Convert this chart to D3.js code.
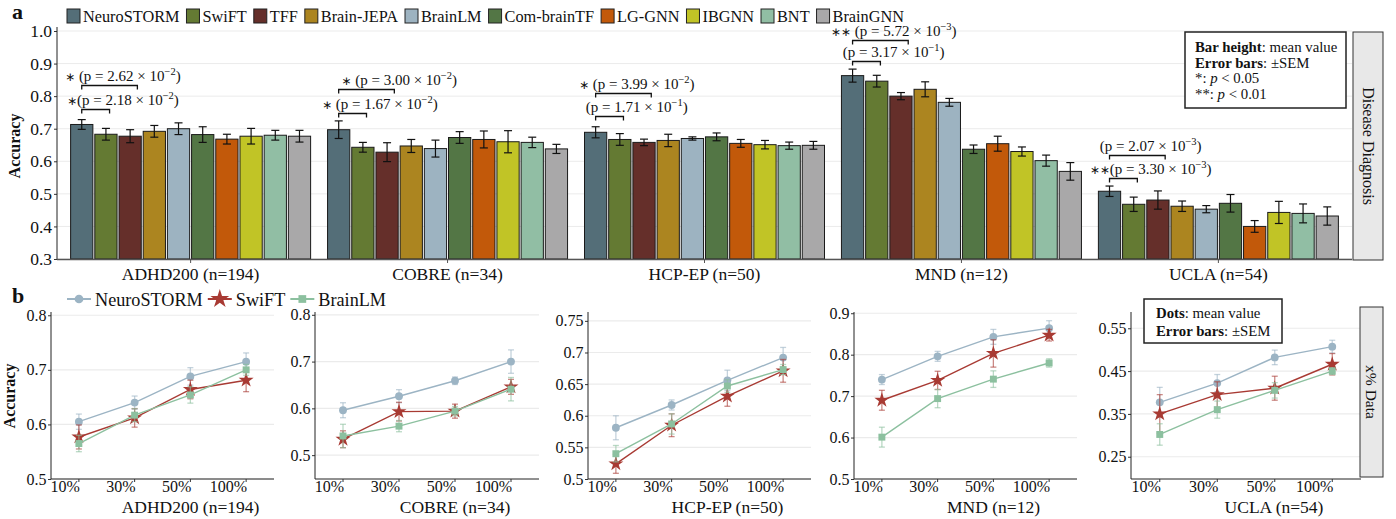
<!DOCTYPE html>
<html>
<head>
<meta charset="utf-8">
<script src="https://cdn.jsdelivr.net/npm/d3@7"></script>
<style>
  body { margin: 0; background: #fff; }
  svg { display: block; font-family: "Liberation Serif", "Times New Roman", serif; }
</style>
</head>
<body>
<svg id="chart" width="1396" height="519"></svg>
<script>
// ---------- panel a : disease diagnosis ----------
const datasets = ["ADHD200 (n=194)", "COBRE (n=34)", "HCP-EP (n=50)", "MND (n=12)", "UCLA (n=54)"];
const models = ["NeuroSTORM", "SwiFT", "TFF", "Brain-JEPA", "BrainLM", "Com-brainTF", "LG-GNN", "IBGNN", "BNT", "BrainGNN"];
const modelColors = ["#546e78", "#647a33", "#652f2a", "#ac8520", "#9db3c1", "#537645", "#c2590a", "#c1c426", "#91bea4", "#a9a8a9"];
// meanAcc[dataset][model], semAcc the same
const meanAcc = [
  [0.713, 0.683, 0.677, 0.692, 0.700, 0.682, 0.668, 0.677, 0.680, 0.677],
  [0.697, 0.643, 0.628, 0.647, 0.639, 0.673, 0.667, 0.660, 0.658, 0.638],
  [0.689, 0.667, 0.658, 0.664, 0.670, 0.675, 0.655, 0.651, 0.648, 0.649],
  [0.863, 0.846, 0.800, 0.821, 0.781, 0.637, 0.654, 0.630, 0.602, 0.569],
  [0.508, 0.468, 0.481, 0.462, 0.453, 0.471, 0.400, 0.443, 0.440, 0.432]
];
const semAcc = [
  [0.015, 0.018, 0.020, 0.018, 0.018, 0.024, 0.015, 0.024, 0.015, 0.018],
  [0.027, 0.015, 0.029, 0.020, 0.026, 0.018, 0.026, 0.034, 0.016, 0.014],
  [0.017, 0.018, 0.010, 0.019, 0.005, 0.012, 0.012, 0.013, 0.011, 0.012],
  [0.020, 0.018, 0.011, 0.023, 0.012, 0.013, 0.023, 0.014, 0.017, 0.027],
  [0.016, 0.022, 0.028, 0.016, 0.011, 0.027, 0.018, 0.034, 0.029, 0.028]
];
const yTicksA = [0.3, 0.4, 0.5, 0.6, 0.7, 0.8, 0.9, 1.0];

// significance brackets (NeuroSTORM vs SwiFT / TFF)
const sigGroup = [0, 0, 1, 1, 2, 2, 3, 3, 4, 4];
const sigTo    = [1, 2, 1, 2, 1, 2, 1, 2, 1, 2];
const sigLevel = [0.760, 0.834, 0.748, 0.821, 0.739, 0.809, 0.907, 0.972, 0.548, 0.619];
const sigStars = ["∗", "∗ ", "∗ ", "∗ ", "", "∗ ", "", "∗∗ ", "∗∗", ""];
const sigP     = ["2.18", "2.62", "1.67", "3.00", "1.71", "3.99", "3.17", "5.72", "3.30", "2.07"];
const sigExp   = ["−2", "−2", "−2", "−2", "−1", "−2", "−1", "−3", "−3", "−3"];
const sigShift = [1.7, 1.7, 1.7, 2.5, 1.7, 1.7, 1.7, 1.7, 1.7, 1.7];

// ---------- panel b : x% data ----------
const fractions = ["10%", "30%", "50%", "100%"];
const fewModels = ["NeuroSTORM", "SwiFT", "BrainLM"];
const fewColors = ["#9cb4c4", "#a83a33", "#8cc09f"];
const fewSymbols = [d3.symbolCircle, d3.symbolStar, d3.symbolSquare];
// fewMean[dataset][model][fraction]
const fewMean = [
  [[0.605, 0.640, 0.688, 0.715], [0.577, 0.612, 0.664, 0.681], [0.565, 0.617, 0.654, 0.700]],
  [[0.596, 0.626, 0.659, 0.700], [0.534, 0.593, 0.594, 0.646], [0.541, 0.562, 0.594, 0.641]],
  [[0.581, 0.617, 0.656, 0.692], [0.524, 0.585, 0.631, 0.671], [0.540, 0.587, 0.647, 0.673]],
  [[0.740, 0.796, 0.843, 0.864], [0.690, 0.738, 0.803, 0.847], [0.601, 0.694, 0.741, 0.780]],
  [[0.377, 0.422, 0.482, 0.507], [0.350, 0.395, 0.410, 0.466], [0.302, 0.360, 0.405, 0.450]]
];
const fewSem = [
  [[0.014, 0.012, 0.016, 0.016], [0.022, 0.017, 0.017, 0.021], [0.015, 0.012, 0.015, 0.010]],
  [[0.016, 0.014, 0.008, 0.025], [0.018, 0.020, 0.015, 0.016], [0.025, 0.012, 0.010, 0.025]],
  [[0.019, 0.008, 0.016, 0.016], [0.015, 0.018, 0.016, 0.018], [0.013, 0.016, 0.010, 0.008]],
  [[0.012, 0.012, 0.018, 0.018], [0.024, 0.022, 0.033, 0.014], [0.024, 0.022, 0.020, 0.010]],
  [[0.035, 0.020, 0.017, 0.015], [0.045, 0.030, 0.028, 0.025], [0.025, 0.020, 0.018, 0.008]]
];
const fewTicks = [
  [0.5, 0.6, 0.7, 0.8],
  [0.5, 0.6, 0.7, 0.8],
  [0.5, 0.55, 0.6, 0.65, 0.7, 0.75],
  [0.5, 0.6, 0.7, 0.8, 0.9],
  [0.25, 0.35, 0.45, 0.55]
];

const svg = d3.select("#chart");
const ink = "#111";

// ===================== panel a =====================
const aLeft = 57, aRight = 1352, aTop = 27, aBottom = 259;
const yA = d3.scaleLinear().domain([0.3, 1.0]).range([259, 31]);
const xA = d3.scalePoint().domain(datasets).range([aLeft, aRight]).padding(0.52);
const xM = d3.scaleBand().domain(models).range([-120, 120]).paddingInner(0.08);

const gA = svg.append("g");

gA.selectAll(".gridA").data(yTicksA).join("line")
  .attr("x1", aLeft).attr("x2", aRight)
  .attr("y1", d => yA(d)).attr("y2", d => yA(d))
  .attr("stroke", "#ebebeb").attr("stroke-width", 1);

// y axis
const axA = gA.append("g").attr("transform", `translate(${aLeft},0)`)
  .call(d3.axisLeft(yA).tickValues(yTicksA).tickFormat(d3.format(".1f")).tickSize(3).tickSizeOuter(0));
axA.select(".domain").remove();
axA.selectAll(".tick line").attr("stroke", "#333");
axA.selectAll(".tick text").attr("font-size", 17.5).attr("fill", ink)
  .attr("font-family", "Liberation Serif, serif").attr("x", -5);
gA.append("line").attr("x1", aLeft).attr("x2", aLeft).attr("y1", aTop).attr("y2", aBottom)
  .attr("stroke", "#222").attr("stroke-width", 1);

gA.append("text").attr("transform", `translate(20,146) rotate(-90)`)
  .attr("text-anchor", "middle").attr("font-size", 16).attr("font-weight", "bold").attr("fill", ink)
  .text("Accuracy");

// bars
datasets.forEach((ds, i) => {
  const g = gA.append("g").attr("transform", `translate(${xA(ds)},0)`);
  g.selectAll("rect").data(models).join("rect")
    .attr("x", m => xM(m)).attr("width", xM.bandwidth())
    .attr("y", (m, j) => yA(meanAcc[i][j]))
    .attr("height", (m, j) => yA(0.3) - yA(meanAcc[i][j]))
    .attr("fill", (m, j) => modelColors[j])
    .attr("stroke", "#1a1a1a").attr("stroke-width", 1);
  const eb = g.selectAll(".eb").data(models).join("g").attr("class", "eb")
    .attr("transform", m => `translate(${xM(m) + xM.bandwidth() / 2},0)`);
  eb.append("line").attr("y1", (m, j) => yA(meanAcc[i][j] - semAcc[i][j]))
    .attr("y2", (m, j) => yA(meanAcc[i][j] + semAcc[i][j]));
  eb.append("line").attr("x1", -4).attr("x2", 4)
    .attr("y1", (m, j) => yA(meanAcc[i][j] + semAcc[i][j])).attr("y2", (m, j) => yA(meanAcc[i][j] + semAcc[i][j]));
  eb.append("line").attr("x1", -4).attr("x2", 4)
    .attr("y1", (m, j) => yA(meanAcc[i][j] - semAcc[i][j])).attr("y2", (m, j) => yA(meanAcc[i][j] - semAcc[i][j]));
  eb.selectAll("line").attr("stroke", "#111").attr("stroke-width", 1.2);
});

// bottom axis of a
gA.append("line").attr("x1", aLeft).attr("x2", aRight).attr("y1", aBottom + 0.5).attr("y2", aBottom + 0.5)
  .attr("stroke", "#555").attr("stroke-width", 1.6);
gA.selectAll(".xtA").data(datasets).join("line")
  .attr("x1", d => xA(d)).attr("x2", d => xA(d)).attr("y1", aBottom).attr("y2", aBottom + 4)
  .attr("stroke", "#555");
gA.selectAll(".xlA").data(datasets).join("text")
  .attr("x", d => xA(d)).attr("y", 280).attr("text-anchor", "middle")
  .attr("font-size", 17.5).attr("fill", ink).text(d => d);

// significance brackets
sigGroup.forEach((gi, k) => {
  const base = xA(datasets[gi]);
  const c0 = base + xM(models[0]) + xM.bandwidth() / 2;
  const c1 = base + xM(models[sigTo[k]]) + xM.bandwidth() / 2 + 0.15 * xM.step() * sigTo[k];
  const yy = Math.round(yA(sigLevel[k])) + 0.5;
  gA.append("path").attr("d", `M${c0},${yy + 4}V${yy}H${c1}V${yy + 4}`)
    .attr("fill", "none").attr("stroke", "#111").attr("stroke-width", 1.3);
  const t = gA.append("text").attr("x", c0 + sigShift[k] * xM.step()).attr("y", yy - 5)
    .attr("text-anchor", "middle").attr("font-size", 15).attr("fill", ink);
  if (sigStars[k]) {
    t.append("tspan").attr("font-family", "DejaVu Sans, sans-serif").attr("font-size", 12)
      .text(sigStars[k]);
  }
  t.append("tspan").text("(p = " + sigP[k] + " × 10");
  t.append("tspan").attr("dy", -5.5).attr("font-size", 10.5).text(sigExp[k]);
  t.append("tspan").attr("dy", 5.5).text(")");
});

// legend a
const legA = svg.append("g");
const legItems = [];
models.forEach((m, j) => {
  const it = legA.append("g");
  it.append("rect").attr("x", 0).attr("y", 9).attr("width", 13).attr("height", 14)
    .attr("fill", modelColors[j]).attr("stroke", "#222").attr("stroke-width", 1);
  const tx = it.append("text").attr("x", 16).attr("y", 22).attr("font-size", 16.3).attr("fill", ink).text(m);
  legItems.push({ g: it, w: 16 + tx.node().getComputedTextLength() });
});
const legGap = (904 - 67 - d3.sum(legItems, d => d.w)) / (legItems.length - 1);
let lx = 67;
legItems.forEach(d => { d.g.attr("transform", `translate(${lx},0)`); lx += d.w + legGap; });

svg.append("text").attr("x", 12).attr("y", 19).attr("font-size", 22).attr("font-weight", "bold")
  .attr("fill", ink).text("a");

// info box a
const boxA = svg.append("g").attr("transform", "translate(1185,32)");
boxA.append("rect").attr("width", 161).attr("height", 76).attr("fill", "#fff")
  .attr("stroke", "#222").attr("stroke-width", 1.5);
const infoA = [
  [["Bar height", "bold"], [": mean value", ""]],
  [["Error bars", "bold"], [": ±SEM", ""]],
  [["*: ", ""], ["p", "italic"], [" < 0.05", ""]],
  [["**: ", ""], ["p", "italic"], [" < 0.01", ""]]
];
infoA.forEach((parts, r) => {
  const t = boxA.append("text").attr("x", 10).attr("y", 20 + r * 15.5).attr("font-size", 14.8).attr("fill", ink);
  parts.forEach(p => {
    const s = t.append("tspan").text(p[0]);
    if (p[1] === "bold") s.attr("font-weight", "bold");
    if (p[1] === "italic") s.attr("font-style", "italic");
  });
});

// strip a
svg.append("rect").attr("x", 1353).attr("y", 32).attr("width", 30).attr("height", 228)
  .attr("fill", "#e8e8e8").attr("stroke", "#333").attr("stroke-width", 1);
svg.append("text").attr("transform", "translate(1363,146) rotate(90)").attr("text-anchor", "middle")
  .attr("font-size", 16).attr("fill", ink).text("Disease Diagnosis");

// ===================== panel b =====================
const panelLeft = [51, 315, 588, 854, 1131];
const panelWidth = [223, 224, 223, 223, 230];
const bTop = 312, bBottom = 479;
const yDomains = [[0.5, 0.806], [0.449, 0.806], [0.5, 0.764], [0.5, 0.903], [0.198, 0.588]];
const tickFmt = d3.format(".2~f");

datasets.forEach((ds, i) => {
  const g = svg.append("g").attr("transform", `translate(${panelLeft[i]},0)`);
  const w = panelWidth[i];
  const x = d3.scaleBand().domain(fractions).range([0, w]);
  const cx = f => x(f) + x.bandwidth() / 2;
  const y = d3.scaleLinear().domain(yDomains[i]).range([bBottom, bTop]);

  g.selectAll(".grid").data(fewTicks[i]).join("line")
    .attr("x1", 0).attr("x2", w).attr("y1", d => y(d)).attr("y2", d => y(d))
    .attr("stroke", "#ebebeb").attr("stroke-width", 1.2);

  const ay = g.append("g").call(d3.axisLeft(y).tickValues(fewTicks[i]).tickFormat(tickFmt).tickSize(3).tickSizeOuter(0));
  ay.select(".domain").remove();
  ay.selectAll(".tick line").attr("stroke", "#333");
  ay.selectAll(".tick text").attr("font-size", 16).attr("fill", ink)
    .attr("font-family", "Liberation Serif, serif").attr("x", -4.5);
  g.append("line").attr("x1", 0).attr("x2", 0).attr("y1", bTop).attr("y2", bBottom).attr("stroke", "#222");
  g.append("line").attr("x1", 0).attr("x2", w).attr("y1", bBottom).attr("y2", bBottom).attr("stroke", "#222");

  g.selectAll(".xt").data(fractions).join("line")
    .attr("x1", cx).attr("x2", cx).attr("y1", bBottom).attr("y2", bBottom + 3).attr("stroke", "#333");
  g.selectAll(".xl").data(fractions).join("text")
    .attr("x", d => cx(d) + 1).attr("y", 492).attr("text-anchor", "end")
    .attr("font-size", 16).attr("fill", ink).text(d => d);
  g.append("text").attr("x", w / 2 + 28).attr("y", 513).attr("text-anchor", "middle")
    .attr("font-size", 17.5).attr("fill", ink).text(ds);

  fewModels.forEach((m, k) => {
    const col = fewColors[k];
    const mg = g.append("g");
    const line = d3.line().x((v, f) => cx(fractions[f])).y(v => y(v));
    mg.append("path").attr("d", line(fewMean[i][k])).attr("fill", "none")
      .attr("stroke", col).attr("stroke-width", 1.4);
    fractions.forEach((f, fi) => {
      const lo = y(fewMean[i][k][fi] - fewSem[i][k][fi]);
      const hi = y(fewMean[i][k][fi] + fewSem[i][k][fi]);
      const e = mg.append("g").attr("stroke", col).attr("stroke-opacity", 0.6).attr("stroke-width", 1.3);
      e.append("line").attr("x1", cx(f)).attr("x2", cx(f)).attr("y1", lo).attr("y2", hi);
      e.append("line").attr("x1", cx(f) - 3).attr("x2", cx(f) + 3).attr("y1", lo).attr("y2", lo);
      e.append("line").attr("x1", cx(f) - 3).attr("x2", cx(f) + 3).attr("y1", hi).attr("y2", hi);
    });
    mg.selectAll(".pt").data(fewMean[i][k]).join("path")
      .attr("transform", (v, fi) => `translate(${cx(fractions[fi])},${y(v)})`)
      .attr("d", d3.symbol().type(fewSymbols[k]).size(k === 1 ? 70 : 48))
      .attr("fill", col);
  });

  if (i === 0) {
    g.append("text").attr("transform", `translate(${-36},396) rotate(-90)`)
      .attr("text-anchor", "middle").attr("font-size", 16).attr("font-weight", "bold").attr("fill", ink)
      .text("Accuracy");
  }
});

// legend b
svg.append("text").attr("x", 12).attr("y", 303).attr("font-size", 22).attr("font-weight", "bold")
  .attr("fill", ink).text("b");
let bx = 67;
fewModels.forEach((m, k) => {
  const it = svg.append("g").attr("transform", `translate(${bx},299)`);
  it.append("line").attr("x1", 0).attr("x2", 24).attr("stroke", fewColors[k]).attr("stroke-width", 2);
  it.append("path").attr("transform", "translate(12,0)")
    .attr("d", d3.symbol().type(fewSymbols[k]).size(k === 1 ? 110 : 60)).attr("fill", fewColors[k]);
  const t = it.append("text").attr("x", 28).attr("y", 6.5).attr("font-size", 18.2).attr("fill", ink).text(m);
  bx += 28 + t.node().getComputedTextLength() + 5;
});

// info box b
const boxB = svg.append("g").attr("transform", "translate(1144,299)");
boxB.append("rect").attr("width", 138).attr("height", 44).attr("fill", "#fff")
  .attr("stroke", "#222").attr("stroke-width", 1.5);
[[["Dots", "bold"], [": mean value", ""]], [["Error bars", "bold"], [": ±SEM", ""]]].forEach((parts, r) => {
  const t = boxB.append("text").attr("x", 12).attr("y", 19 + r * 17.5).attr("font-size", 14.8).attr("fill", ink);
  parts.forEach(p => {
    const s = t.append("tspan").text(p[0]);
    if (p[1] === "bold") s.attr("font-weight", "bold");
  });
});

// strip b
svg.append("rect").attr("x", 1360).attr("y", 307).attr("width", 23).attr("height", 170)
  .attr("fill", "#e8e8e8").attr("stroke", "#333").attr("stroke-width", 1);
svg.append("text").attr("transform", "translate(1366,392) rotate(90)").attr("text-anchor", "middle")
  .attr("font-size", 15.5).attr("fill", ink).text("x% Data");
</script>
</body>
</html>
